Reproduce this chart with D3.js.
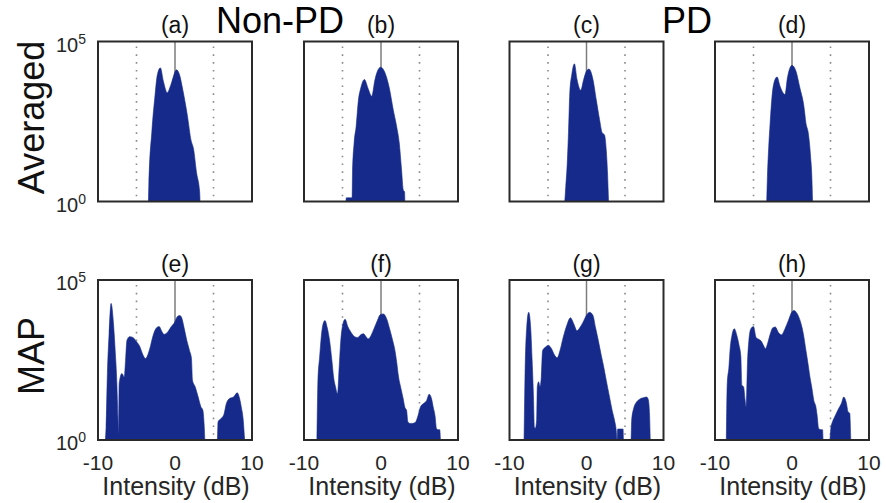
<!DOCTYPE html>
<html>
<head>
<meta charset="utf-8">
<script src="https://cdn.jsdelivr.net/npm/d3@7"></script>
<style>
  html, body { margin: 0; padding: 0; background: #fff; }
  svg { display: block; }
  text { font-family: "Liberation Sans", Arial, Helvetica, sans-serif; }
</style>
</head>
<body>
<svg id="chart" width="886" height="503"></svg>
<script>
// Intensity histograms: [intensity (dB), pixel count]
const histA = [[-3.45,1],[-3.4,3.2],[-3.0,160],[-2.6,2000],[-2.3,8900],[-1.9,15000],[-1.5,5600],[-1.0,2500],[-0.6,4000],[0.2,13000],[0.6,8900],[1.0,3200],[1.6,500],[2.1,79],[2.4,45],[2.8,7.9],[3.2,2],[3.25,1]];
const histB = [[-4.55,1],[-4.5,1.3],[-3.75,1.3],[-3.7,7.9],[-3.49,68],[-3.23,220],[-2.93,1500],[-2.63,3500],[-2.16,6500],[-1.64,3200],[-1.21,1950],[-0.78,6500],[-0.47,11700],[-0.04,15800],[0.52,10500],[1.08,3500],[1.59,740],[2.03,220],[2.37,68],[2.67,9.8],[2.89,2.3],[3.06,2.0],[3.1,1]];
const histC = [[-2.82,1],[-2.69,3],[-2.52,12.6],[-2.34,140],[-2.17,2450],[-1.91,9300],[-1.57,20000],[-1.23,6500],[-0.75,3000],[-0.37,6500],[-0.02,11700],[0.32,13800],[0.84,6500],[1.27,1500],[1.70,360],[2.04,140],[2.34,120],[2.56,42],[2.73,7.8],[2.86,1]];
const histD = [[-3.28,1],[-3.19,6],[-3.02,52],[-2.84,280],[-2.59,1950],[-2.28,5800],[-1.94,7800],[-1.55,4000],[-0.91,2200],[-0.6,7200],[-0.26,15000],[0,18000],[0.52,11700],[1.03,3500],[1.55,930],[1.81,280],[2.11,140],[2.41,26],[2.59,4.8],[2.67,1]];
const histE = [[-9.04,1],[-8.95,2.6],[-8.78,120],[-8.56,2100],[-8.30,18600],[-7.99,4300],[-7.77,630],[-7.55,58],[-7.42,5.4],[-7.34,1.6],[-7.25,58],[-6.9,120],[-6.59,93],[-6.42,310],[-6.24,1300],[-5.9,1700],[-5.46,1600],[-5.02,1200],[-4.59,850],[-4.15,450],[-3.84,350],[-3.62,410],[-3.28,710],[-2.84,1860],[-2.4,3200],[-2.05,3500],[-1.75,2600],[-1.44,2000],[-1.0,2300],[-0.48,3500],[-0.04,4800],[0.31,7200],[0.61,7800],[0.87,6600],[1.18,3200],[1.53,1300],[1.88,630],[2.14,350],[2.27,74],[2.62,46],[3.01,22],[3.36,11],[3.62,8.5],[3.8,2.6],[3.89,1],[5.5,1],[5.59,3.7],[5.98,4.7],[6.33,6],[6.68,14],[7.12,20],[7.6,22],[8.08,30],[8.34,22],[8.6,11],[8.86,4.2],[9.04,1]];
const histF = [[-8.32,1],[-8.19,74],[-7.97,390],[-7.76,1660],[-7.54,4100],[-7.28,5400],[-6.98,3200],[-6.68,1300],[-6.38,310],[-6.16,93],[-5.91,46],[-5.65,28],[-5.43,190],[-5.22,1300],[-4.96,4100],[-4.66,5900],[-4.31,3500],[-3.88,2300],[-3.36,1660],[-3.02,1600],[-2.63,1950],[-2.28,2100],[-1.94,1700],[-1.64,1450],[-1.29,1860],[-0.91,3000],[-0.47,5400],[-0.09,8300],[0.30,8700],[0.73,6200],[1.16,2750],[1.51,1300],[1.81,630],[2.03,280],[2.28,93],[2.59,41],[2.89,19],[3.1,10.5],[3.32,8.5],[3.49,3.7],[3.75,3.3],[4.09,3.3],[4.44,3.5],[4.83,6],[5.13,11],[5.56,14],[5.91,17],[6.25,27],[6.55,20],[6.77,11],[7.03,5.4],[7.2,2.3],[7.41,2.1],[7.63,2.1],[7.72,1]];
const histG = [[-8.11,1],[-7.98,120],[-7.76,3400],[-7.51,9800],[-7.25,3200],[-7.08,390],[-6.9,28],[-6.77,2.6],[-6.65,2.3],[-6.47,4.2],[-6.39,46],[-6.22,66],[-6.04,46],[-5.87,93],[-5.7,630],[-5.35,790],[-4.97,910],[-4.54,710],[-4.15,450],[-3.81,370],[-3.46,600],[-3.03,1600],[-2.52,4100],[-2.09,6600],[-1.66,4300],[-1.23,2600],[-0.88,3200],[-0.45,4800],[-0.02,7800],[0.41,9800],[0.84,7800],[1.18,3200],[1.53,1300],[1.91,450],[2.26,180],[2.56,74],[2.99,22],[3.33,8.5],[3.63,4.2],[3.85,2.1],[3.98,1],[4.05,2.2],[4.75,2.2],[4.8,1],[5.78,1],[5.87,4.2],[6.13,9.8],[6.43,14.5],[6.86,18.6],[7.38,21],[7.81,22],[8.02,18.6],[8.19,6],[8.28,1]];
const histH = [[-8.53,1],[-8.41,58],[-8.19,190],[-8.02,760],[-7.8,1860],[-7.5,3000],[-7.16,1860],[-6.9,980],[-6.64,390],[-6.51,51],[-6.29,46],[-6.08,17],[-5.95,11],[-5.78,250],[-5.6,1300],[-5.34,3000],[-5.0,3500],[-4.66,1600],[-4.31,1400],[-3.97,1200],[-3.71,910],[-3.45,710],[-3.15,1070],[-2.84,2000],[-2.5,3200],[-2.16,3400],[-1.77,2300],[-1.34,1950],[-0.91,3000],[-0.47,5400],[-0.04,9800],[0.26,11200],[0.69,8700],[1.12,4800],[1.47,2100],[1.81,630],[2.07,250],[2.33,93],[2.59,41],[2.84,17],[3.1,11],[3.28,5.4],[3.45,2.3],[3.79,2.1],[3.97,2.1],[4.05,1],[4.91,1],[5.04,2.3],[5.26,3.7],[5.56,5.4],[5.99,8.9],[6.42,14],[6.72,22],[7.07,14],[7.28,7.6],[7.5,6.8],[7.63,1]];

const panelData = [histA, histB, histC, histD, histE, histF, histG, histH];
const panelLabels = ["(a)", "(b)", "(c)", "(d)", "(e)", "(f)", "(g)", "(h)"];
const rowLabels = ["Averaged", "MAP"];
const groupLabels = ["Non-PD", "PD"];
const xTicks = [-10, 0, 10];
const yTickExponents = [0, 5];
const markerLines = [-5, 5];
const xDomain = [-10, 10];
const yDomain = [1, 1e5];

// layout
const colLeft = [98, 304, 509.5, 715];
const rowTop = [41.5, 280];
const pw = 154, ph = 160;
const fillColor = "#152a8a";
const frameColor = "#2a2a2a";

const svg = d3.select("#chart");

panelData.forEach((data, i) => {
  const row = Math.floor(i / 4), col = i % 4;
  const x0 = colLeft[col], y0 = rowTop[row];
  const x = d3.scaleLinear().domain(xDomain).range([0, pw]);
  const y = d3.scaleLog().domain(yDomain).range([ph, 0]);
  const g = svg.append("g").attr("transform", `translate(${x0},${y0})`);

  // dotted reference lines at ±5 dB
  g.selectAll("line.ref").data(markerLines).join("line")
    .attr("class", "ref")
    .attr("x1", d => x(d)).attr("x2", d => x(d))
    .attr("y1", 5).attr("y2", ph)
    .attr("stroke", "#8a8a8a").attr("stroke-width", 1.6)
    .attr("stroke-dasharray", "1.6,6.2");

  // solid line at 0 dB
  g.append("line")
    .attr("x1", x(0)).attr("x2", x(0))
    .attr("y1", 0).attr("y2", ph)
    .attr("stroke", "#7d7d7d").attr("stroke-width", 1.5);

  // histogram area
  const area = d3.area()
    .curve(d3.curveMonotoneX)
    .x(d => x(d[0]))
    .y0(y(yDomain[0]))
    .y1(d => y(Math.max(d[1], yDomain[0])));
  g.append("path").datum(data)
    .attr("d", area)
    .attr("fill", fillColor)
    .attr("stroke", fillColor).attr("stroke-width", 0.6);

  // frame
  g.append("rect")
    .attr("x", 0).attr("y", 0).attr("width", pw).attr("height", ph)
    .attr("fill", "none").attr("stroke", frameColor).attr("stroke-width", 2);

  // panel label
  g.append("text")
    .attr("x", pw / 2).attr("y", -8.5)
    .attr("text-anchor", "middle")
    .attr("font-size", 23).attr("fill", "#111")
    .text(panelLabels[i]);

  // y tick labels (first column only)
  if (col === 0) {
    yTickExponents.forEach(e => {
      const t = g.append("text")
        .attr("x", -12).attr("y", y(Math.pow(10, e)) + 10)
        .attr("text-anchor", "end")
        .attr("font-size", 20).attr("fill", "#262626");
      t.append("tspan").text("10");
      t.append("tspan").attr("font-size", 14).attr("dy", -8).text(String(e));
    });
  }

  // x tick labels and axis title (bottom row only)
  if (row === 1) {
    g.selectAll("text.xt").data(xTicks).join("text")
      .attr("class", "xt")
      .attr("x", d => x(d)).attr("y", ph + 30)
      .attr("text-anchor", "middle")
      .attr("font-size", 21).attr("fill", "#262626")
      .text(d => d < 0 ? "-" + Math.abs(d) : String(d));
    g.append("text")
      .attr("x", pw / 2 + 1).attr("y", ph + 55)
      .attr("text-anchor", "middle")
      .attr("font-size", 25).attr("fill", "#262626")
      .text("Intensity (dB)");
  }
});

// row titles
rowLabels.forEach((label, r) => {
  svg.append("text")
    .attr("transform", `translate(43.5,${rowTop[r] + ph / 2 - 4}) rotate(-90)`)
    .attr("text-anchor", "middle")
    .attr("font-size", 36).attr("fill", "#111")
    .text(label);
});

// group titles
const groupCenters = [280, 687];
groupLabels.forEach((label, k) => {
  svg.append("text")
    .attr("x", groupCenters[k]).attr("y", 33.3)
    .attr("text-anchor", "middle")
    .attr("font-size", 36).attr("fill", "#000")
    .text(label);
});
</script>
</body>
</html>
